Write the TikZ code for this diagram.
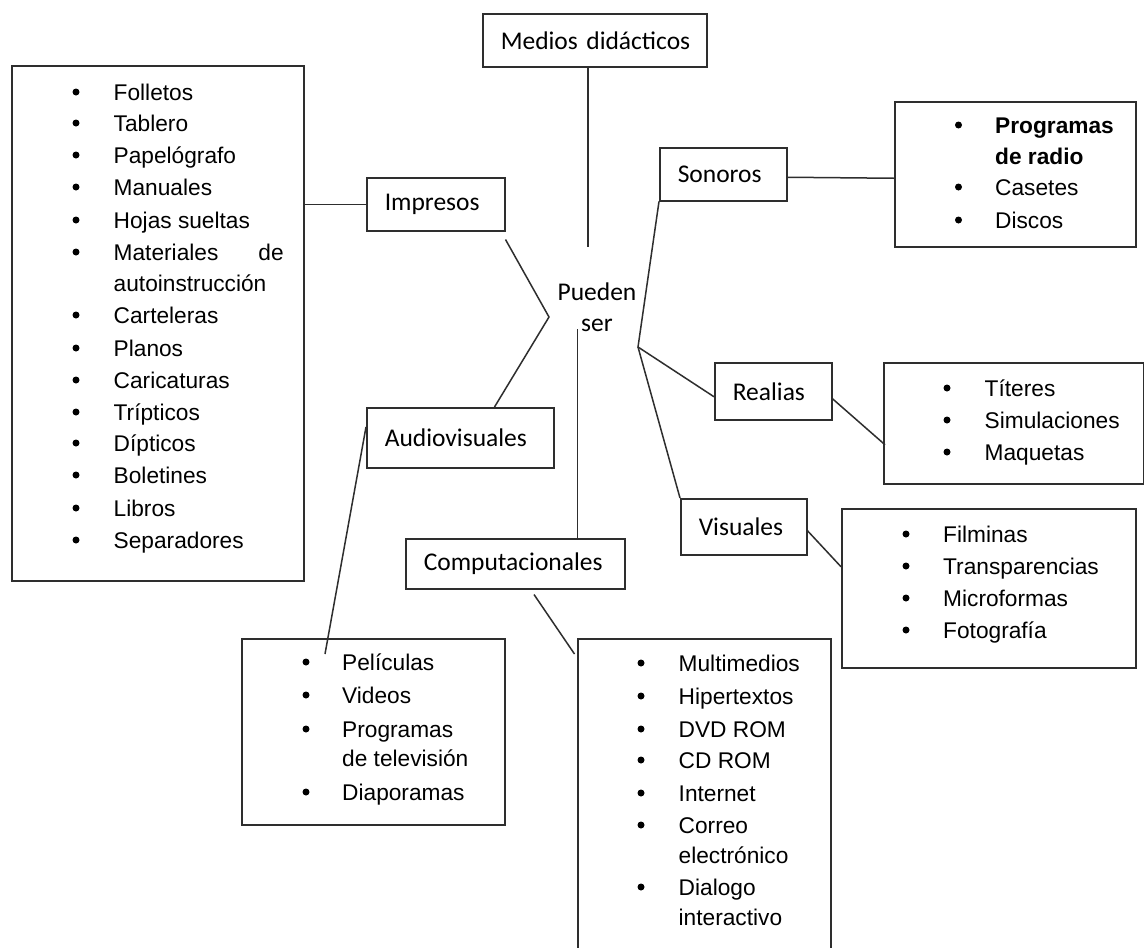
\documentclass[tikz,border=0pt]{standalone}
\usepackage{fontspec}
\setmainfont{Liberation Sans}
\newfontfamily\calfont{Carlito}
\usetikzlibrary{calc}
\tikzset{
  ln/.style={draw=black!82, line width=1.5pt},
  box/.style={draw=black!82, line width=1.5pt, anchor=north west, inner sep=0pt},
  lbl/.style={box, align=left, inner xsep=18pt, font=\calfont\fontsize{25.5}{31}\selectfont},
  itm/.style={anchor=base west, inner sep=0pt, font=\fontsize{22.7}{32}\selectfont},
  blt/.style={circle, fill=black, inner sep=0pt, minimum size=7pt},
}
\begin{document}
\begin{tikzpicture}[x=1pt,y=-1pt]
\useasboundingbox (0,0) rectangle (1144,948);
\clip (0,0) rectangle (1144,948);
\fill[white] (0,0) rectangle (1144,948);

% label boxes
\node[lbl, text width=188, minimum height=53] (medios) at (482,13) {\mbox{Medios didácticos}};
\node[lbl, text width=102, minimum height=53] (impresos) at (366,177) {\mbox{Impresos}};
\node[lbl, text width=151, minimum height=60] (audiov) at (366,407) {\mbox{Audiovisuales}};
\node[lbl, text width=183, minimum height=50] (comp) at (405,538) {\mbox{Computacionales}};
\node[lbl, text width=91, minimum height=53] (sonoros) at (659,147) {\mbox{Sonoros}};
\node[lbl, text width=81, minimum height=57] (realias) at (714,362) {\mbox{Realias}};
\node[lbl, text width=90, minimum height=56] (visuales) at (680,498) {\mbox{Visuales}};
\node[align=center, inner sep=0pt, font=\calfont\fontsize{25.5}{31.5}\selectfont] (pueden) at (597,307) {Pueden\\ser};

% list boxes
\node[box, minimum width=292, minimum height=515] (implist) at (11,65) {};
\node[box, minimum width=263, minimum height=186] (pellist) at (241,638) {};
\node[box, minimum width=253, minimum height=330] (complist) at (577,638) {};
\node[box, minimum width=241, minimum height=145] (sonlist) at (894,101) {};
\node[box, minimum width=260, minimum height=121] (realist) at (883,362) {};
\node[box, minimum width=294, minimum height=159] (vislist) at (841,508) {};

% list items
\foreach \t/\y/\b [count=\i] in {Folletos/92/1, Tablero/123/1, Papelógrafo/155/1, Manuales/187/1,
  Hojas sueltas/220/1, {\hbox to 170pt{Materiales\hfill de}}/252/1, autoinstrucción/283/0,
  Carteleras/315/1, Planos/348/1, Caricaturas/380/1, Trípticos/412/1, Dípticos/443/1,
  Boletines/475/1, Libros/508/1, Separadores/540/1}{
  \ifnum\b=1 \node[blt] (ib\i) at (76,\y) {};\fi
  \node[itm] (it\i) at (113.5,\y+8) {\t};
}
\foreach \t/\y/\b [count=\i] in {Películas/662/1, Videos/695/1, Programas/729/1,
  de televisión/758/0, Diaporamas/792/1}{
  \ifnum\b=1 \node[blt] (pb\i) at (306,\y) {};\fi
  \node[itm] (pt\i) at (342,\y+8) {\t};
}
\foreach \t/\y/\b [count=\i] in {Multimedios/663/1, Hipertextos/696/1, DVD ROM/729/1,
  CD ROM/760/1, Internet/793/1, Correo/825/1, electrónico/855/0, Dialogo/887/1, interactivo/917/0}{
  \ifnum\b=1 \node[blt] (cb\i) at (641,\y) {};\fi
  \node[itm] (ct\i) at (678.5,\y+8) {\t};
}
\foreach \t/\y/\b [count=\i] in {{\bfseries Programas}/125/1, {\bfseries de radio}/156/0,
  Casetes/187/1, Discos/220/1}{
  \ifnum\b=1 \node[blt] (sb\i) at (958.5,\y) {};\fi
  \node[itm] (st\i) at (995,\y+8) {\t};
}
\foreach \t/\y [count=\i] in {Títeres/388, Simulaciones/420, Maquetas/452}{
  \node[blt] (rb\i) at (947,\y) {};
  \node[itm] (rt\i) at (984.5,\y+8) {\t};
}
\foreach \t/\y [count=\i] in {Filminas/534, Transparencias/566, Microformas/598, Fotografía/630}{
  \node[blt] (vb\i) at (906,\y) {};
  \node[itm] (vt\i) at (943,\y+8) {\t};
}

% free ends / vertices
\coordinate (mtail) at (588,247);
\coordinate (vL) at (549,317);
\coordinate (ctop) at (577.5,329);
\coordinate (vR) at (638,347);

% connectors
\draw[ln] (mtail |- medios.south) -- (mtail);
\draw[ln] (impresos.west -| implist.east) -- (impresos.west);
\draw[ln] ($(impresos.south east)+(0,8)$) -- (vL) -- ($(audiov.north east)+(-60,0)$);
\draw[ln] (ctop) -- (ctop |- comp.north);
\draw[ln] ($(comp.south west)+(129,5)$) -- ($(complist.north west)+(-2.5,16)$);
\draw[ln] ($(audiov.north west)+(0,20)$) -- ($(pellist.north west)+(84,16)$);
\draw[ln] ($(sonoros.east)+(0,3)$) -- ($(sonlist.west)+(0,4)$);
\draw[ln] (sonoros.south west) -- (vR) -- ($(realias.west)+(0,5.5)$);
\draw[ln] (vR) -- (visuales.north west);
\draw[ln] ($(realias.east)+(0,7.5)$) -- ($(realist.west)+(2,21.5)$);
\draw[ln] ($(visuales.east)+(0,4)$) -- ($(vislist.west)+(0,-21.5)$);
\end{tikzpicture}
\end{document}
